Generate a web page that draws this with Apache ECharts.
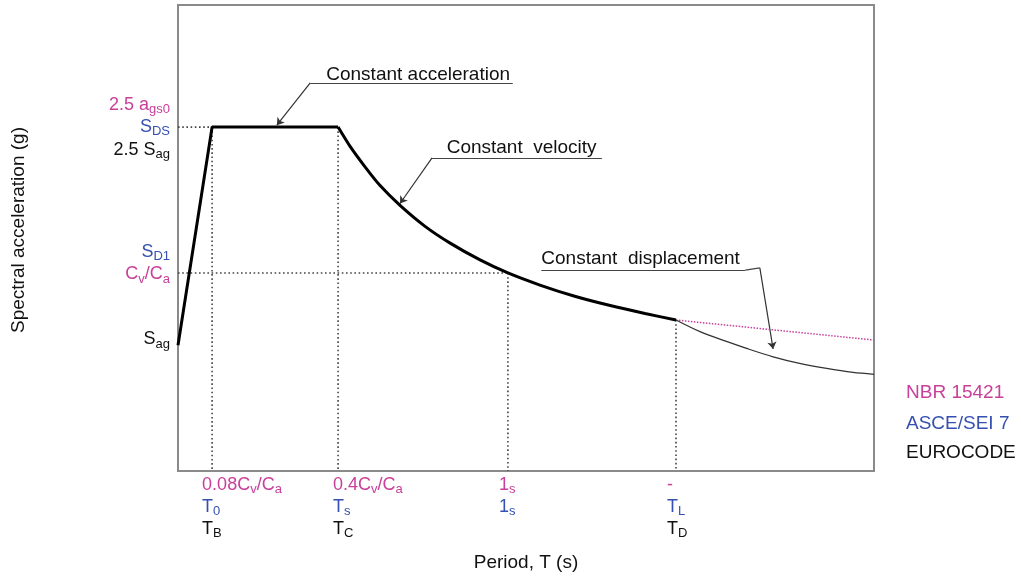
<!DOCTYPE html>
<html>
<head>
<meta charset="utf-8">
<script src="https://cdn.jsdelivr.net/npm/echarts@6/dist/echarts.min.js"></script>
<style>html,body{margin:0;padding:0;background:#fff}#c{width:1021px;height:581px}</style>
</head>
<body>
<div id="c"></div>
<script>
// ---- data (abstract schematic units) ----
const rampX = [0, 0.49, 2.30];
const rampY = [2.70, 7.38, 7.38];
const velX = [2.30, 2.47, 2.69, 2.90, 3.19, 3.55, 3.91, 4.34, 4.74, 5.20, 5.70, 6.21, 6.71, 7.155];
const velY = [7.38, 6.97, 6.52, 6.13, 5.70, 5.25, 4.89, 4.53, 4.25, 3.99, 3.75, 3.55, 3.38, 3.24];
const dispX = [7.155, 7.50, 7.88, 8.17, 8.55, 8.93, 9.32, 9.70, 10];
const dispY = [3.24, 2.99, 2.78, 2.63, 2.45, 2.31, 2.20, 2.115, 2.075];
const nbrX = [7.155, 10];
const nbrY = [3.24, 2.81];

// reference (dotted) lines
const guideLines = [
  [[0, 7.38], [0.49, 7.38]],
  [[0.49, 7.38], [0.49, 0]],
  [[2.30, 7.38], [2.30, 0]],
  [[0, 4.25], [4.74, 4.25]],
  [[4.74, 4.25], [4.74, 0]],
  [[7.155, 3.24], [7.155, 0]]
];

// x tick labels (alternating main / subscript pieces)
const xTickValues = [0.49, 2.30, 4.74, 7.155];
const xTickNBR  = [['0.08C', 'v', '/C', 'a'], ['0.4C', 'v', '/C', 'a'], ['1', 's'], ['-']];
const xTickASCE = [['T', '0'], ['T', 's'], ['1', 's'], ['T', 'L']];
const xTickEC   = [['T', 'B'], ['T', 'C'], [''], ['T', 'D']];

// y tick labels
const yTickValues = [7.38, 4.25, 2.70];
const yTickLabels = [
  [['p', ['2.5 a', 'gs0']], ['b', ['S', 'DS']], ['k', ['2.5 S', 'ag']]],
  [['b', ['S', 'D1']], ['p', ['C', 'v', '/C', 'a']]],
  [['k', ['S', 'ag']]]
];

// annotations
const annoText = ['Constant acceleration', 'Constant  velocity', 'Constant  displacement'];
const annoPos = [[2.13, 8.50], [3.86, 6.93], [5.22, 4.55]];
const annoUnder = [
  [[1.90, 8.33], [4.81, 8.33]],
  [[3.65, 6.72], [6.09, 6.72]],
  [[5.22, 4.31], [8.15, 4.31]],
  [[8.15, 4.31], [8.36, 4.36]]
];
const annoArrows = [
  [[1.90, 8.33], [1.42, 7.42]],
  [[3.65, 6.72], [3.19, 5.74]],
  [[8.36, 4.36], [8.55, 2.62]]
];

const codes = ['NBR 15421', 'ASCE/SEI 7', 'EUROCODE'];

// ---- styles ----
const PINK = '#c8409a', BLUE = '#3550b0', BLACK = '#111111';
const FONT = 'Liberation Sans';

function rt(key, parts) {
  let s = '';
  parts.forEach((t, i) => {
    if (t === '') return;
    s += '{' + key + (i % 2 ? 's' : '') + '|' + t + '}';
  });
  return s;
}
function richStyles(lh, fs, sfs) {
  const r = {};
  [['p', PINK], ['b', BLUE], ['k', BLACK]].forEach(([k, c]) => {
    r[k] = {color: c, fontSize: fs, fontFamily: FONT, lineHeight: lh};
    r[k + 's'] = {color: c, fontSize: sfs, fontFamily: FONT, lineHeight: 16, verticalAlign: 'bottom'};
  });
  return r;
}

const xOffsets = [-10, -5, -9, -9];
const xLabelData = xTickValues.map((v, i) => ({
  value: [v, 0],
  label: {
    offset: [xOffsets[i], 0],
    formatter: [rt('p', xTickNBR[i]), rt('b', xTickASCE[i]) || ' ', rt('k', xTickEC[i]) || ' '].join('\n')
  }
}));
const yOffsets = [0, -10, -6];
const yLabelData = yTickValues.map((v, i) => ({
  value: [0, v],
  label: {
    offset: [0, yOffsets[i]],
    formatter: yTickLabels[i].map(([k, parts]) => rt(k, parts)).join('\n')
  }
}));

const labelSeries = {type: 'scatter', symbolSize: 0, silent: true, itemStyle: {opacity: 1}};

const chart = echarts.init(document.getElementById('c'));
chart.setOption({
  animation: false,
  grid: {left: 178, right: 147, top: 5, bottom: 110, show: true, borderColor: '#8a8a8a', borderWidth: 2, backgroundColor: 'transparent'},
  xAxis: {
    type: 'value', min: 0, max: 10,
    axisLine: {show: false}, axisTick: {show: false}, axisLabel: {show: false}, splitLine: {show: false},
    name: 'Period, T (s)', nameLocation: 'middle', nameGap: 82,
    nameTextStyle: {fontSize: 19, fontFamily: FONT, color: BLACK}
  },
  yAxis: {
    type: 'value', min: 0, max: 10,
    axisLine: {show: false}, axisTick: {show: false}, axisLabel: {show: false}, splitLine: {show: false}
  },
  graphic: [
    {type: 'text', x: 19, y: 230, rotation: Math.PI / 2,
     style: {text: 'Spectral acceleration (g)', fill: BLACK, font: '19px ' + FONT, align: 'center', verticalAlign: 'middle'}},
    ...codes.map((t, i) => ({
      type: 'text', x: 906, y: [393, 424, 453][i],
      style: {text: t, fill: [PINK, BLUE, BLACK][i], font: '19px ' + FONT, align: 'left', verticalAlign: 'middle'}
    }))
  ],
  series: [
    ...guideLines.map(seg => ({
      type: 'line', data: seg, symbol: 'none', silent: true,
      lineStyle: {color: '#444', width: 1.6, type: [1.6, 2.6]}
    })),
    {type: 'line', data: nbrX.map((x, i) => [x, nbrY[i]]), symbol: 'none',
     lineStyle: {color: PINK, width: 1.5, type: [1.5, 1.5]}},
    {type: 'line', data: dispX.map((x, i) => [x, dispY[i]]), symbol: 'none', smooth: 0.3,
     lineStyle: {color: '#333', width: 1.3}},
    {type: 'line', data: rampX.map((x, i) => [x, rampY[i]]), symbol: 'none',
     lineStyle: {color: '#000', width: 3}},
    {type: 'line', data: velX.map((x, i) => [x, velY[i]]), symbol: 'none', smooth: 0.2,
     lineStyle: {color: '#000', width: 3}},
    {type: 'lines', coordinateSystem: 'cartesian2d', silent: true,
     lineStyle: {color: '#444', width: 1.2, opacity: 1},
     data: annoUnder.map(c => ({coords: c}))},
    {type: 'lines', coordinateSystem: 'cartesian2d', silent: true,
     symbol: ['none', 'arrow'], symbolSize: 7,
     lineStyle: {color: '#333', width: 1.2, opacity: 1},
     data: annoArrows.map(c => ({coords: c}))},
    Object.assign({}, labelSeries, {
     label: {show: true, position: 'right', distance: 0, fontSize: 19, fontFamily: FONT, color: BLACK},
     data: annoPos.map((p, i) => ({value: p, label: {formatter: annoText[i]}}))}),
    Object.assign({}, labelSeries, {
     label: {show: true, position: 'bottom', distance: 3, align: 'left', rich: richStyles(22, 18, 13)},
     data: xLabelData}),
    Object.assign({}, labelSeries, {
     label: {show: true, position: 'left', distance: 8, align: 'right', rich: richStyles(22.5, 18, 13)},
     data: yLabelData})
  ]
});
</script>
</body>
</html>
